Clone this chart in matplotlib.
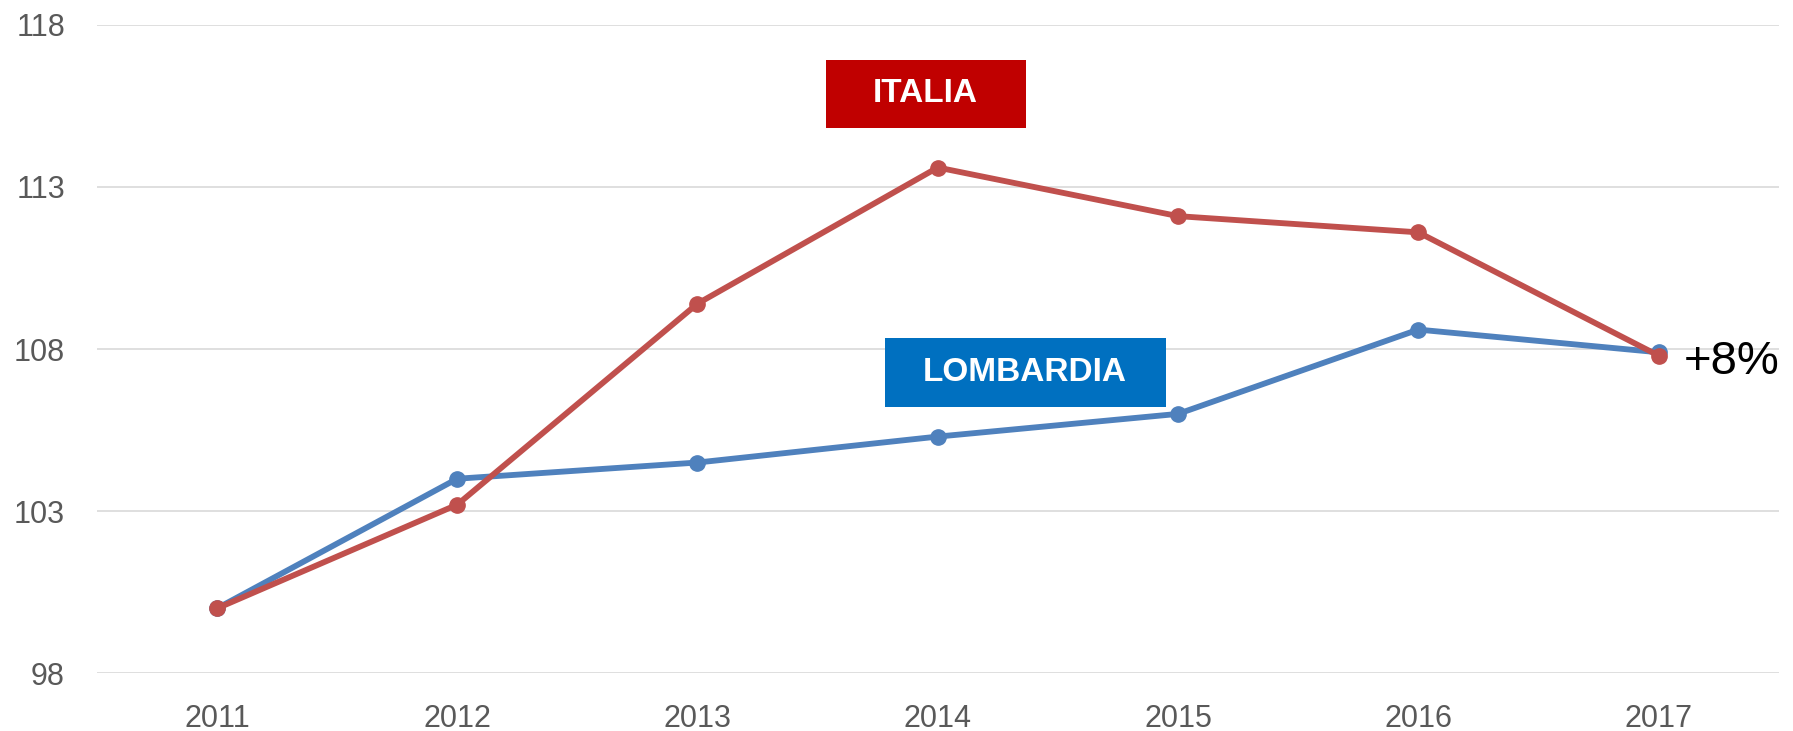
import numpy as np
import matplotlib.pyplot as plt
from matplotlib.patches import Rectangle

years = ["2011", "2012", "2013", "2014", "2015", "2016", "2017"]
lombardia = [100.0, 104.0, 104.5, 105.3, 106.0, 108.6, 107.9]
italia = [100.0, 103.2, 109.4, 113.6, 112.1, 111.6, 107.8]
yticks = [98, 103, 108, 113, 118]

BLUE_LINE = "#4F81BD"
RED_LINE = "#C0504D"
BLUE_BOX = "#0070C0"
RED_BOX = "#C00000"
GREY_TXT = "#595959"

plt.rcParams["font.family"] = ["Liberation Sans", "DejaVu Sans"]

fig = plt.figure(figsize=(17.93, 7.31), dpi=100)
ax = fig.add_axes([0.054, 0.079, 0.938, 0.887])

x = np.arange(len(years))
ax.plot(x, lombardia, color=BLUE_LINE, lw=4.2, marker="o", ms=11, zorder=3)
ax.plot(x, italia, color=RED_LINE, lw=4.2, marker="o", ms=11, zorder=4)

ax.set_xlim(-0.5, len(years) - 0.5)
ax.set_ylim(98, 118)
ax.set_xticks(x)
ax.set_xticklabels(years)
ax.set_yticks(yticks)
ax.tick_params(length=0, labelsize=22, labelcolor=GREY_TXT)
ax.tick_params(axis="x", pad=22)
ax.tick_params(axis="y", pad=23)
ax.grid(axis="y", color="#D9D9D9", lw=1.2)
ax.set_axisbelow(True)
for s in ax.spines.values():
    s.set_visible(False)

# series label boxes
for (x0, y0, w, h, txt, col) in [
    (0.4334, 0.841, 0.1189, 0.105, "ITALIA", RED_BOX),
    (0.4685, 0.411, 0.167, 0.106, "LOMBARDIA", BLUE_BOX),
]:
    ax.add_patch(Rectangle((x0, y0), w, h, transform=ax.transAxes,
                           facecolor=col, edgecolor="none", zorder=5, clip_on=False))
    ax.text(x0 + w / 2, y0 + h / 2, txt, transform=ax.transAxes, ha="center", va="center",
            color="white", fontsize=24, fontweight="bold", zorder=6)

ax.annotate("+8%", xy=(x[-1], italia[-1]), xytext=(18, -5), textcoords="offset points",
            ha="left", va="center", fontsize=34, color="black")

fig.savefig("out.png", dpi=100, facecolor="white")
